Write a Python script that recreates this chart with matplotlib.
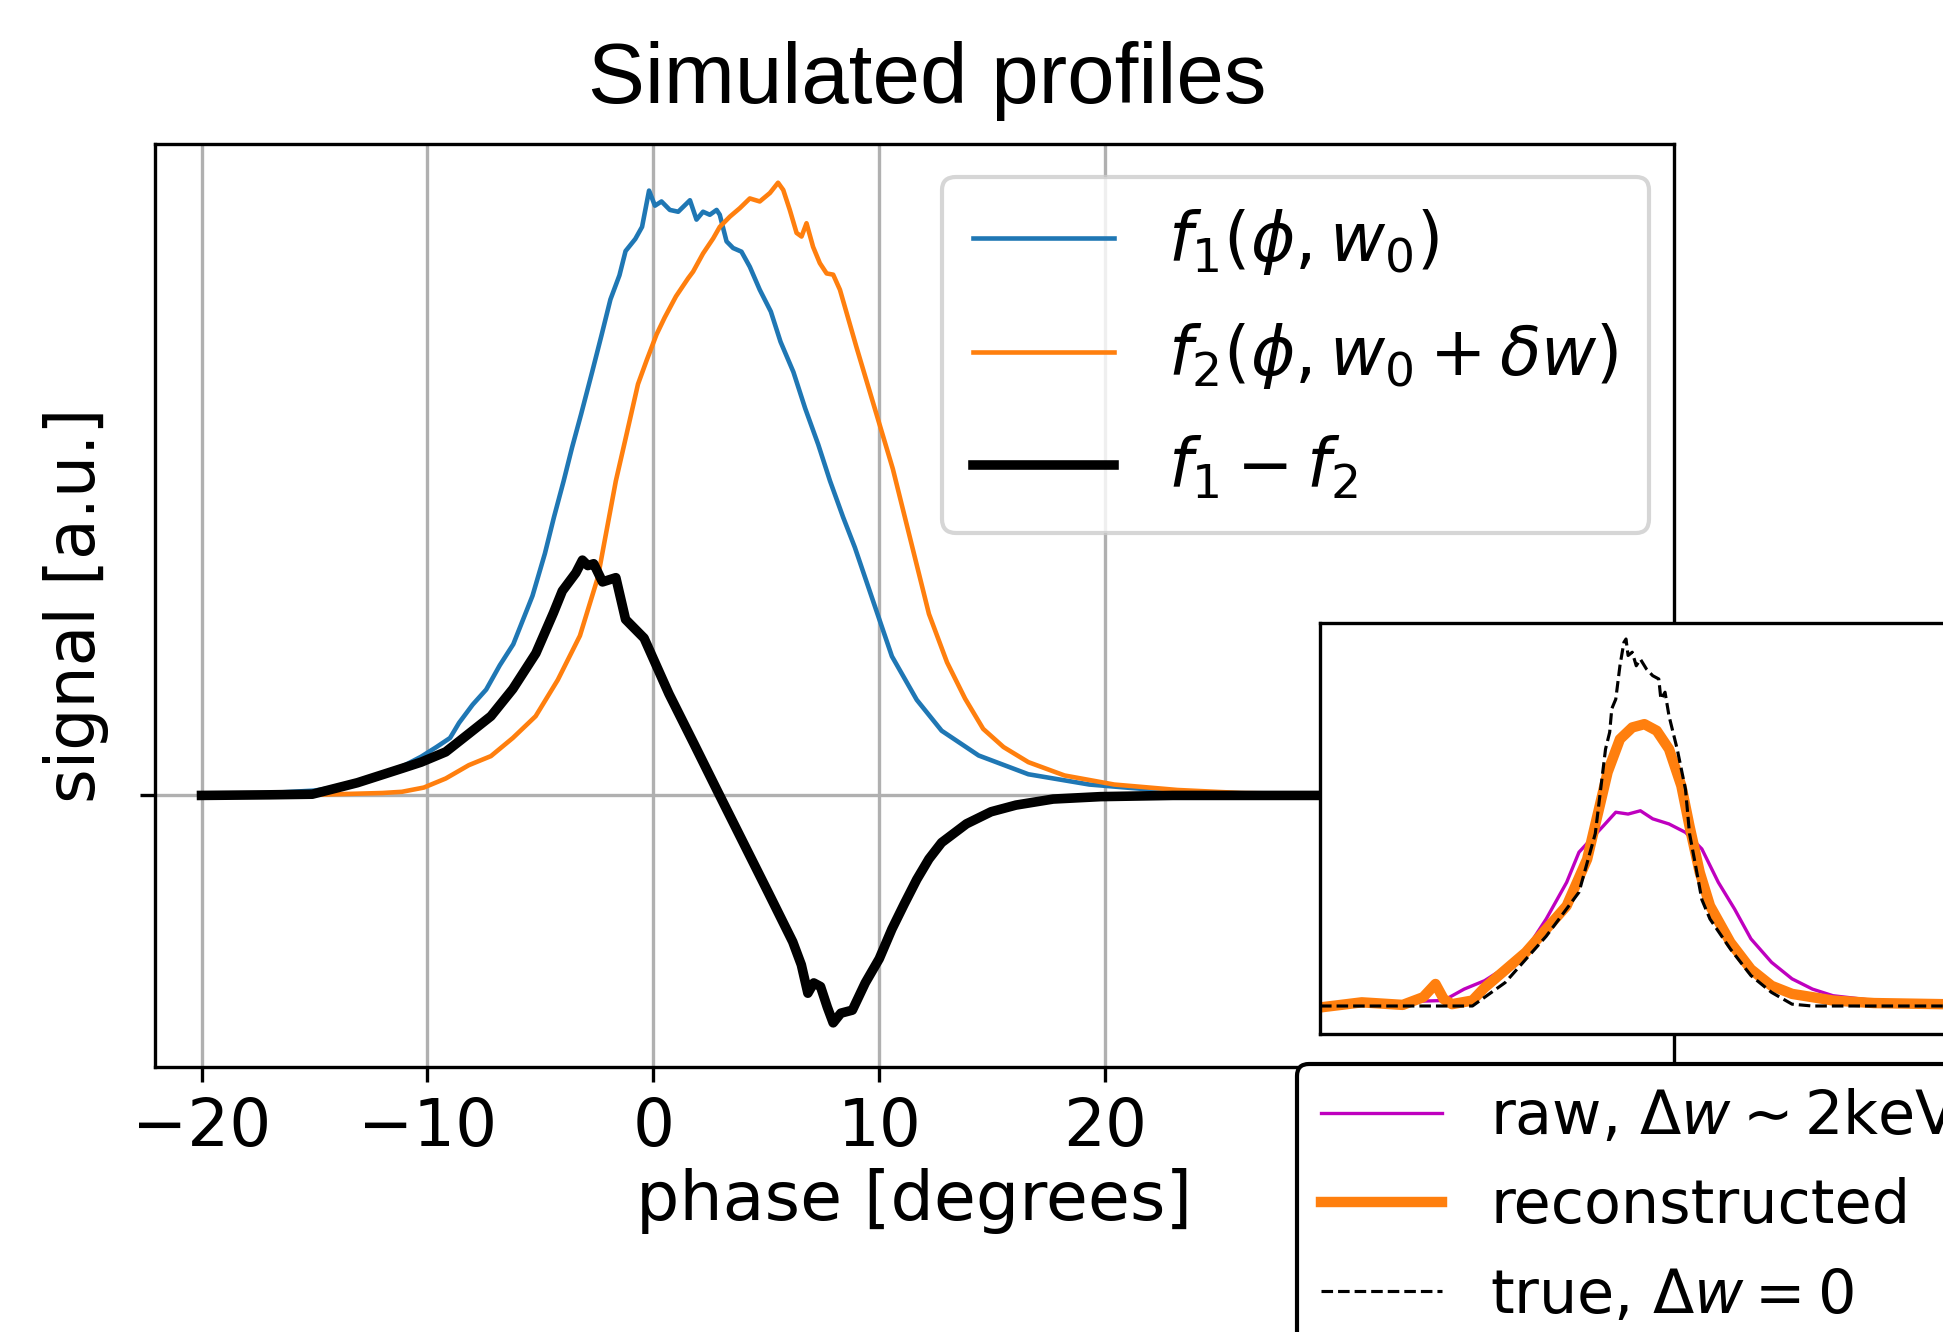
import numpy as np
import matplotlib
matplotlib.use('Agg')
import matplotlib.pyplot as plt

# ---- main panel: phase [deg] vs signal [a.u.] ----
phase_f1 = [-20, -17, -15, -13, -12.1, -11, -10.28, -9.6, -9.0, -8.6, -8.0, -7.4, -6.8,
            -6.2, -5.35, -4.8, -4.4, -3.97, -3.6, -3.2, -2.71, -2.3, -1.9, -1.5, -1.23,
            -0.8, -0.5, -0.19, 0.07, 0.36, 0.73, 1.1, 1.62, 1.91, 2.2, 2.5, 2.8, 2.94, 3.24,
            3.53, 3.9, 4.27, 4.71, 5.2, 5.63, 6.2, 6.72, 7.3, 7.82, 8.4, 8.92, 9.74, 10.56,
            11.66, 12.76, 14.4, 16.6, 19.3, 23.2, 28, 35, 44]
f1 = [0.0, 0.004, 0.008, 0.02, 0.033, 0.05, 0.064, 0.08, 0.095, 0.12, 0.15, 0.175, 0.215,
      0.25, 0.33, 0.40, 0.46, 0.52, 0.575, 0.63, 0.70, 0.76, 0.82, 0.86, 0.9,
      0.92, 0.94, 1.0, 0.975, 0.982, 0.968, 0.965, 0.984, 0.952, 0.965, 0.96, 0.968, 0.96, 0.916,
      0.905, 0.899, 0.874, 0.836, 0.8, 0.75, 0.70, 0.64, 0.58, 0.52, 0.46, 0.41, 0.32, 0.23,
      0.158, 0.107, 0.066, 0.035, 0.018, 0.006, 0.002, 0.0, 0.0]

phase_f2 = [-20, -15, -12, -11.13, -10.16, -9.19, -8.17, -7.19, -6.22, -5.21, -4.23, -3.25,
            -2.46, -1.66, -1.26, -0.68, -0.29, 0.14, 0.5, 1.0, 1.54, 1.76, 2.2, 2.65, 2.94,
            3.39, 3.83, 4.27, 4.71, 5.16, 5.52, 5.75, 6.04, 6.34, 6.56, 6.78, 7.07, 7.37,
            7.67, 7.96, 8.26, 9.0, 9.8, 10.6, 11.4, 12.2, 13.0, 13.8, 14.6, 15.5, 16.6, 18.2,
            20.4, 23.2, 26, 32, 44]
f2 = [0.0, 0.001, 0.004, 0.006, 0.013, 0.028, 0.05, 0.065, 0.095, 0.131, 0.191, 0.264,
      0.36, 0.52, 0.585, 0.68, 0.72, 0.762, 0.79, 0.825, 0.855, 0.866, 0.896, 0.921, 0.94,
      0.957, 0.971, 0.987, 0.982, 0.996, 1.013, 1.001, 0.968, 0.93, 0.924, 0.946, 0.907, 0.88,
      0.863, 0.861, 0.836, 0.74, 0.64, 0.54, 0.42, 0.30, 0.22, 0.16, 0.11, 0.08, 0.055, 0.033,
      0.018, 0.009, 0.004, 0.001, 0.0]

phase_diff = [-20, -17, -15.1, -13.1, -11.1, -10.28, -9.19, -8.17, -7.19, -6.22, -5.2, -4.42,
              -4.03, -3.43, -3.14, -2.9, -2.64, -2.25, -1.66, -1.23, -0.41, 0.69, 1.79, 2.88,
              3.98, 5.08, 6.17, 6.55, 6.84, 7.1, 7.4, 7.7, 7.96, 8.3, 8.81, 9.38, 10.0, 10.56,
              11.1, 11.66, 12.2, 12.76, 13.86, 14.95, 16.05, 17.7, 19.8, 23, 28, 35, 44]
diff = [0.0, 0.001, 0.002, 0.021, 0.045, 0.055, 0.072, 0.102, 0.131, 0.176, 0.235, 0.302,
        0.338, 0.368, 0.389, 0.38, 0.383, 0.353, 0.36, 0.291, 0.26, 0.168, 0.086, 0.004,
        -0.078, -0.16, -0.242, -0.28, -0.327, -0.31, -0.316, -0.35, -0.376, -0.36, -0.355,
        -0.31, -0.27, -0.221, -0.18, -0.139, -0.105, -0.078, -0.047, -0.027, -0.016, -0.006,
        -0.002, 0.0, 0.0, 0.0, 0.0]

xticks = [-20, -10, 0, 10, 20]
main_labels = [r'$f_1(\phi, w_0)$', r'$f_2(\phi, w_0 + \delta w)$', r'$f_1 - f_2$']

# ---- inset: raw / reconstructed / true profiles ----
phase_raw = [-19.26, -11.53, -10.25, -8.97, -7.68, -6.40, -5.12, -3.84, -3.07, -2.31, -1.54,
             -0.77, 0.0, 0.77, 1.54, 2.56, 3.59, 4.61, 5.64, 6.66, 7.68, 8.97, 10.25, 11.53,
             12.81, 15.37, 19.67, 22]
raw = [0.005, 0.015, 0.046, 0.069, 0.105, 0.151, 0.237, 0.337, 0.419, 0.455, 0.491,
       0.528, 0.523, 0.532, 0.51, 0.496, 0.473, 0.428, 0.337, 0.264, 0.183, 0.119, 0.074, 0.046,
       0.028, 0.015, 0.01, 0.01]

phase_rec = [-19.26, -16.65, -14.09, -12.81, -12.04, -11.53, -11.01, -9.73, -8.97, -6.40, -3.84,
             -2.56, -1.28, -0.51, 0.26, 1.02, 1.79, 2.56, 3.33, 3.84, 4.48, 5.12, 6.40, 7.68,
             8.97, 10.25, 12.81, 15.37, 19.67, 22]
rec = [-0.004, 0.01, 0.003, 0.024, 0.06, 0.019, 0.005, 0.015, 0.05, 0.146, 0.273,
       0.40, 0.637, 0.727, 0.759, 0.768, 0.75, 0.70, 0.60, 0.49, 0.364, 0.273, 0.173, 0.10,
       0.055, 0.033, 0.015, 0.008, 0.005, 0.005]

phase_true = [-19.26, -15.4, -9.73, -7.68, -5.12, -3.07, -2.05, -1.41, -1.15, -1.02, -0.77,
              -0.51, -0.26, -0.13, 0.0, 0.26, 0.51, 0.77, 1.15, 1.54, 1.92, 2.05, 2.31, 2.56,
              3.07, 3.59, 3.84, 4.23, 4.61, 5.12, 6.40, 7.68, 8.97, 10.25, 11.5, 19.7, 22]
true = [0.0, 0.0, 0.0, 0.064, 0.19, 0.31, 0.47, 0.70, 0.746, 0.81, 0.836,
        0.927, 0.991, 1.0, 0.955, 0.964, 0.927, 0.945, 0.918, 0.9, 0.891, 0.836, 0.855, 0.79,
        0.70, 0.59, 0.47, 0.38, 0.29, 0.237, 0.155, 0.083, 0.037, 0.005, 0.0, 0.0, 0.0]

inset_labels = [r'raw, $\Delta w \sim 2$keV', 'reconstructed', r'true, $\Delta w = 0$']

W, H = 1943, 1332
fig = plt.figure(figsize=(W / 300, H / 300), dpi=300)


def box(l, t, r, b):
    # pixel box -> figure fraction
    return [l / W, 1 - b / H, (r - l) / W, (b - t) / H]


ax = fig.add_axes(box(155, 144, 1674, 1067))
ax.plot(phase_f1, f1, color='#1f77b4', lw=1.1, label=main_labels[0])
ax.plot(phase_f2, f2, color='#ff7f0e', lw=1.1, label=main_labels[1])
ax.plot(phase_diff, diff, color='k', lw=2.3, label=main_labels[2])
ax.set_xlim(-22.06, 45.18)
ax.set_ylim(-0.449, 1.077)
ax.set_xticks(xticks)
ax.set_yticks([0])
ax.set_yticklabels([''])
ax.grid(True)
ax.tick_params(labelsize=15.8)
ax.set_xlabel('phase [degrees]', fontsize=16.4, labelpad=2)
ax.set_ylabel('signal [a.u.]', fontsize=16)
ax.legend(loc='upper right', bbox_to_anchor=(1649 / W, 1 - 177 / H),
          bbox_transform=fig.transFigure, borderaxespad=0, fontsize=16.2,
          labelspacing=0.65, borderpad=0.45, handlelength=2.1)

fig.text(927 / W, 1 - 103 / H, 'Simulated profiles', ha='center', va='baseline',
         fontsize=20.5, family='Liberation Sans')

ins = fig.add_axes(box(1320, 623, 1980, 1034))
ins.plot(phase_raw, raw, color='m', lw=0.8, label=inset_labels[0])
ins.plot(phase_rec, rec, color='#ff7f0e', lw=2.5, label=inset_labels[1])
ins.plot(phase_true, true, 'k--', lw=0.75, label=inset_labels[2])
ins.set_xlim(-19.26, 22)
ins.set_ylim(-0.0763, 1.0436)
ins.set_xticks([])
ins.set_yticks([])
ins.legend(loc='upper left', bbox_to_anchor=(1297 / W, 1 - 1064 / H),
           bbox_transform=fig.transFigure, borderaxespad=0, fontsize=14.5,
           framealpha=1, edgecolor='k')

fig.savefig('out.png', dpi=300)
